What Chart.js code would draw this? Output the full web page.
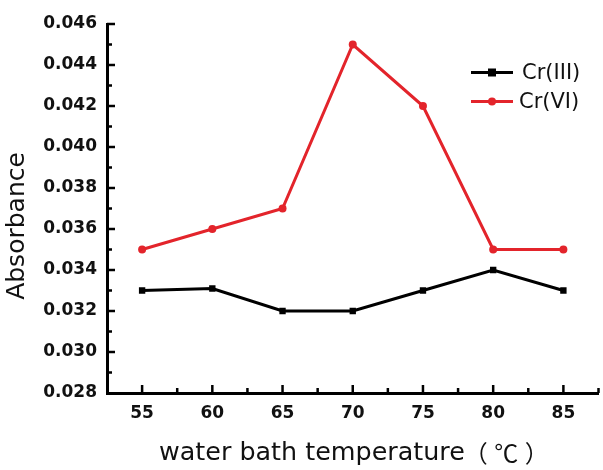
<!DOCTYPE html>
<html>
<head>
<meta charset="utf-8">
<script src="https://cdn.jsdelivr.net/npm/chart.js@4"></script>
<style>
html,body{margin:0;padding:0;background:#fff;}
#wrap{width:603px;height:470px;position:relative;}
</style>
</head>
<body>
<div id="wrap"><canvas id="c" width="603" height="470"></canvas></div>
<script>
const temperatures = [55, 60, 65, 70, 75, 80, 85];
const crIII = [0.0330, 0.0331, 0.0320, 0.0320, 0.0330, 0.0340, 0.0330];
const crVI = [0.0350, 0.0360, 0.0370, 0.0450, 0.0420, 0.0350, 0.0350];
const seriesNames = ['Cr(III)', 'Cr(VI)'];
const yTicks = [0.028, 0.030, 0.032, 0.034, 0.036, 0.038, 0.040, 0.042, 0.044, 0.046];
const xTitleMain = 'water bath temperature';
const xTitleUnit = '（℃）';
const yTitle = 'Absorbance';

const FONT = "'DejaVu Sans', 'Noto Sans CJK SC', sans-serif";
const CJK = "'Noto Sans CJK SC', 'DejaVu Sans', sans-serif";

const tickPlugin = {
  id: 'tickPlugin',
  afterDraw(chart) {
    const ctx = chart.ctx;
    const xs = chart.scales.x, ys = chart.scales.y;
    const area = chart.chartArea;
    ctx.save();
    ctx.strokeStyle = '#000';
    ctx.lineWidth = 2.5;
    // x ticks (major + minor), pointing inward (up)
    for (let v = xs.min; v <= xs.max + 1e-6; v += 2.5) {
      const px = xs.getPixelForValue(v);
      if (px <= area.left + 2) continue;
      const major = Math.abs(v % 5) < 1e-6;
      const len = major ? 8 : 5;
      ctx.beginPath();
      ctx.moveTo(px, area.bottom);
      ctx.lineTo(px, area.bottom - len);
      ctx.stroke();
    }
    // y ticks (major + minor), pointing inward (right)
    const nMinor = Math.round((ys.max - ys.min) / 0.001);
    for (let i = 0; i <= nMinor; i++) {
      const v = ys.min + i * 0.001;
      const py = ys.getPixelForValue(v);
      if (py >= area.bottom - 2) continue;
      const major = i % 2 === 0;
      const len = major ? 8 : 5;
      ctx.beginPath();
      ctx.moveTo(area.left, py);
      ctx.lineTo(area.left + len, py);
      ctx.stroke();
    }
    // axis titles
    ctx.fillStyle = '#111';
    ctx.textBaseline = 'middle';
    ctx.textAlign = 'left';
    ctx.font = '25.4px ' + FONT;
    ctx.fillText(xTitleMain, 159, 453);
    const w = ctx.measureText(xTitleMain).width;
    ctx.font = '24px ' + CJK;
    ctx.textAlign = 'center';
    Array.from(xTitleUnit).forEach((ch, k) => {
      ctx.fillText(ch, 159 + w + 11 + 30.5 * k, 453);
    });
    ctx.font = '25px ' + FONT;
    ctx.save();
    ctx.translate(17, 226);
    ctx.rotate(-Math.PI / 2);
    ctx.fillText(yTitle, 0, 0);
    ctx.restore();
    // legend
    chart.data.datasets.forEach((ds, i) => {
      const y = 72.5 + i * 29;
      ctx.strokeStyle = ds.borderColor;
      ctx.lineWidth = 3;
      ctx.beginPath();
      ctx.moveTo(471, y);
      ctx.lineTo(513, y);
      ctx.stroke();
      ctx.fillStyle = ds.borderColor;
      if (ds.pointStyle === 'rect') {
        ctx.fillRect(488, y - 4, 8, 8);
      } else {
        ctx.beginPath();
        ctx.arc(492, y, 4, 0, Math.PI * 2);
        ctx.fill();
      }
      ctx.fillStyle = '#111';
      ctx.font = '21px ' + FONT;
      ctx.textAlign = 'left';
      ctx.textBaseline = 'middle';
      ctx.fillText(ds.label, i === 0 ? 522 : 519, y + 1);
    });
    ctx.restore();
  }
};

new Chart(document.getElementById('c'), {
  type: 'line',
  data: {
    datasets: [
      {
        label: seriesNames[0],
        data: temperatures.map((t, i) => ({x: t, y: crIII[i]})),
        borderColor: '#000000',
        backgroundColor: '#000000',
        borderWidth: 3,
        pointStyle: 'rect',
        pointRadius: 4.5,
        pointBorderWidth: 0,
        tension: 0
      },
      {
        label: seriesNames[1],
        data: temperatures.map((t, i) => ({x: t, y: crVI[i]})),
        borderColor: '#e3242b',
        backgroundColor: '#e3242b',
        borderWidth: 3,
        pointStyle: 'circle',
        pointRadius: 4,
        pointBorderWidth: 0,
        tension: 0
      }
    ]
  },
  options: {
    responsive: false,
    animation: false,
    events: [],
    layout: {padding: {top: 24, right: 1, left: 0, bottom: 0}},
    plugins: {legend: {display: false}, tooltip: {enabled: false}},
    scales: {
      x: {
        type: 'linear',
        min: 52.5,
        max: 87.5,
        afterBuildTicks: (s) => { s.ticks = temperatures.map(v => ({value: v})); },
        afterFit: (s) => { s.height = 77; },
        grid: {display: false, drawTicks: false},
        border: {display: true, width: 3, color: '#000'},
        ticks: {
          padding: 10,
          color: '#111',
          font: {family: FONT, size: 17, weight: 'bold'},
          maxRotation: 0,
          callback: (v) => String(v)
        },
        title: {display: false}
      },
      y: {
        min: 0.028,
        max: 0.046,
        afterBuildTicks: (s) => { s.ticks = yTicks.map(v => ({value: v})); },
        afterFit: (s) => { s.width = 107; },
        grid: {display: false, drawTicks: false},
        border: {display: true, width: 3, color: '#000'},
        ticks: {
          padding: 10,
          color: '#111',
          font: {family: FONT, size: 17, weight: 'bold'},
          callback: (v) => Number(v).toFixed(3)
        },
        title: {display: false}
      }
    }
  },
  plugins: [tickPlugin]
});
</script>
</body>
</html>
